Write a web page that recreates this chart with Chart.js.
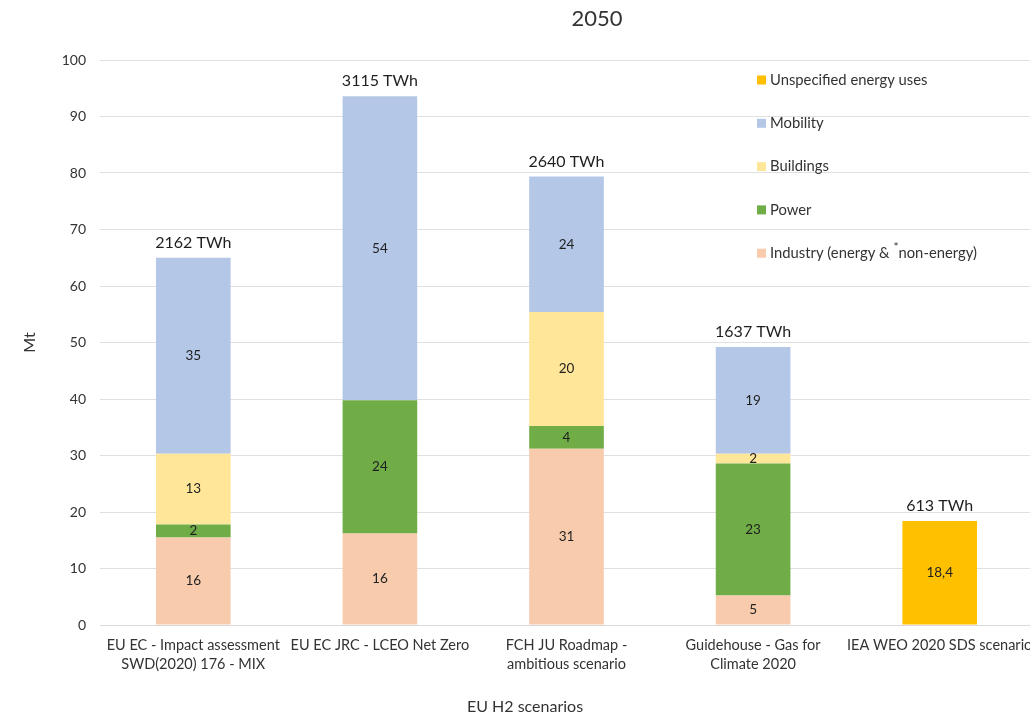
<!DOCTYPE html>
<html><head><meta charset="utf-8">
<script src="https://cdn.jsdelivr.net/npm/chart.js@4/dist/chart.umd.min.js"></script>
<style>html,body{margin:0;padding:0;background:#fff;overflow:hidden}#wrap{width:1034px;height:716px;position:relative}</style>
</head><body><div id="wrap"><canvas id="c"></canvas></div>
<script>
// ---- data ----
const categories = [
  ["EU EC - Impact assessment", "SWD(2020) 176 - MIX"],
  "EU EC JRC - LCEO Net Zero",
  ["FCH JU Roadmap -", "ambitious scenario"],
  ["Guidehouse - Gas for", "Climate 2020"],
  "IEA WEO 2020 SDS scenario"
];
const industry    = [15.5, 16.2, 31.2, 5.2, null];
const power       = [2.3, 23.6, 4.0, 23.4, null];
const buildings   = [12.5, null, 20.2, 1.7, null];
const mobility    = [34.7, 53.8, 24.0, 18.9, null];
const unspecified = [null, null, null, null, 18.4];
const totalsTWh   = [2162, 3115, 2640, 1637, 613];
const seriesNames = ["Industry (energy & *non-energy)", "Power", "Buildings", "Mobility", "Unspecified energy uses"];
const chartTitle = "2050";
const xTitle = "EU H2 scenarios";
const yTitle = "Mt";

const FONT = "Lato, 'Open Sans', sans-serif";
const TEXT = "#333333";

const labelPlugin = {
  id: 'custom',
  afterDatasetsDraw(chart) {
    const ctx = chart.ctx;
    const ca = chart.chartArea;
    ctx.save();
    // segment labels
    ctx.textAlign = 'center';
    ctx.textBaseline = 'middle';
    ctx.fillStyle = '#1f1f1f';
    ctx.font = "13.5px " + FONT;
    chart.data.datasets.forEach((ds, i) => {
      const meta = chart.getDatasetMeta(i);
      meta.data.forEach((el, j) => {
        const v = ds.data[j];
        if (v === null || v === undefined) return;
        const txt = ds.decimals ? v.toFixed(ds.decimals).replace('.', ',') : String(Math.round(v));
        ctx.fillText(txt, el.x, (el.y + el.base) / 2);
      });
    });
    // totals
    ctx.font = "16px " + FONT;
    ctx.fillStyle = '#1f1f1f';
    totalsTWh.forEach((t, j) => {
      let top = Infinity, x = 0;
      chart.data.datasets.forEach((ds, i) => {
        const v = ds.data[j];
        if (v === null || v === undefined) return;
        const el = chart.getDatasetMeta(i).data[j];
        x = el.x;
        top = Math.min(top, el.y);
      });
      ctx.fillText(t + " TWh", x, top - 15);
    });
    // legend (reverse order), '*' drawn as superscript
    ctx.textAlign = 'left';
    const LF = "14.8px " + FONT;
    const dsets = chart.data.datasets.slice().reverse();
    dsets.forEach((ds, k) => {
      const y = ca.top + 20 + k * 43.3;
      const x = ca.left + 657;
      ctx.fillStyle = ds.backgroundColor;
      ctx.fillRect(x, y - 4.5, 9, 9);
      ctx.fillStyle = TEXT;
      ctx.font = LF;
      const parts = ds.label.split('*');
      let cx = x + 13;
      parts.forEach((p, pi) => {
        if (pi > 0) {
          ctx.font = "12px " + FONT;
          ctx.fillText('*', cx, y - 6);
          cx += ctx.measureText('*').width;
          ctx.font = LF;
        }
        ctx.fillText(p, cx, y);
        cx += ctx.measureText(p).width;
      });
    });
    // title
    ctx.textAlign = 'center';
    ctx.fillStyle = TEXT;
    ctx.font = "22px " + FONT;
    ctx.fillText(chartTitle, 597, 19);
    // x title
    ctx.font = "16px " + FONT;
    ctx.fillText(xTitle, 525, 707);
    // y title
    ctx.translate(30, (ca.top + ca.bottom) / 2);
    ctx.rotate(-Math.PI / 2);
    ctx.fillText(yTitle, 0, 0);
    ctx.restore();
  }
};

const mk = (label, data, color, decimals) => ({
  label, data, backgroundColor: color, borderWidth: 0,
  categoryPercentage: 1.0, barPercentage: 0.4, decimals
});

new Chart(document.getElementById('c'), {
  type: 'bar',
  data: {
    labels: categories,
    datasets: [
      mk(seriesNames[0], industry, '#F8CBAD', 0),
      mk(seriesNames[1], power, '#70AD47', 0),
      mk(seriesNames[2], buildings, '#FFE699', 0),
      mk(seriesNames[3], mobility, '#B4C7E7', 0),
      mk(seriesNames[4], unspecified, '#FFC000', 1)
    ]
  },
  options: {
    responsive: true,
    maintainAspectRatio: false,
    animation: false,
    layout: { padding: { top: 60, left: 0, right: 1, bottom: 0 } },
    plugins: { legend: { display: false }, title: { display: false }, tooltip: { enabled: false } },
    scales: {
      x: {
        stacked: true,
        grid: { display: false, drawTicks: false },
        border: { display: true, color: '#d9d9d9', width: 1 },
        ticks: { color: TEXT, font: { family: FONT, size: 14.5, lineHeight: 1.3 }, padding: 11, maxRotation: 0, autoSkip: false },
        afterFit(s) { s.height = 91; s.paddingLeft = 0; s.paddingRight = 0; }
      },
      y: {
        stacked: true,
        min: 0, max: 100,
        grid: { color: '#e0e0e0', drawTicks: false },
        border: { display: false },
        ticks: { stepSize: 10, color: TEXT, font: { family: FONT, size: 14 }, padding: 14 },
        afterFit(s) { s.width = 100; s.paddingTop = 0; s.paddingBottom = 0; }
      }
    }
  },
  plugins: [labelPlugin]
});
</script>
</body></html>
